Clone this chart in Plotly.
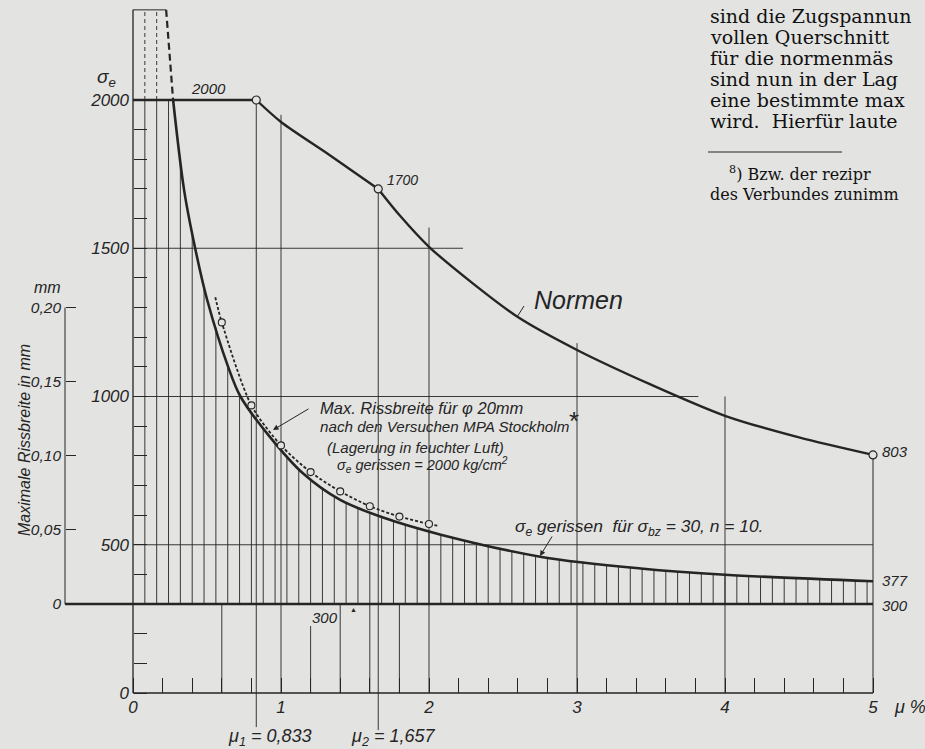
import numpy as np
import plotly.graph_objects as go

# ---------------- data ----------------
# "Normen" curve: permissible steel stress sigma_e [kg/cm2] vs. reinforcement ratio mu [%]
mu_normen = [0.0, 0.833, 1.0, 1.33, 1.657, 1.8, 2.0, 2.3, 2.6, 3.0, 3.5, 4.0, 4.5, 5.0]
sigma_normen = [2000, 2000, 1926, 1814, 1700, 1612, 1505, 1380, 1268, 1157, 1040, 935, 862, 803]

# "sigma_e gerissen fuer sigma_bz = 30, n = 10" curve (first point = dashed start above 2000)
mu_gerissen = [0.224, 0.271, 0.345, 0.42, 0.50, 0.643, 0.726, 0.926, 1.15, 1.40, 1.70, 2.08, 2.76, 3.43, 4.0, 5.0]
sigma_gerissen = [2304, 2000, 1697, 1500, 1328, 1100, 1000, 863, 740, 651, 590, 534, 459, 420, 399, 377]

# Max. Rissbreite (phi 20 mm, MPA Stockholm) [mm]
mu_riss = [0.6, 0.8, 1.0, 1.2, 1.4, 1.6, 1.8, 2.0]
riss_mm = [0.190, 0.134, 0.107, 0.089, 0.076, 0.066, 0.059, 0.054]
riss_line_start = (0.556, 0.207)
riss_line_end = (2.07, 0.0527)

# labelled points on the Normen curve
mu_marks = [0.833, 1.657, 5.0]
sigma_marks = [2000, 1700, 803]

mu_1, mu_2 = 0.833, 1.657
sigma_limit = 2000
sigma_asymptote = 300

# ticks
x_tick_vals = [0, 1, 2, 3, 4, 5]
x_tick_text = ["0", "1", "2", "3", "4", "5"]
x_minor_step = 0.2
sigma_tick_vals = [0, 500, 1000, 1500, 2000]
sigma_tick_text = ["0", "500", "1000", "1500", "2000"]
sigma_minor_step = 100
mm_tick_vals = [0, 0.05, 0.10, 0.15, 0.20]
mm_tick_text = ["0", "0,05", "0,10", "0,15", "0,20"]
hatch_step = 0.08

# ---------------- geometry / style ----------------
W, H = 925, 749
X0, KX = 133.0, 148.0      # px of mu=0, px per 1 %
Y0, KY = 693.0, 0.2965     # px of sigma=0, px per kg/cm2
SIGMA_PER_MM = 5000.0
MM_AXIS_PX = 65.0

x_range = [-X0 / KX, (W - X0) / KX]
y_range = [(Y0 - H) / KY, Y0 / KY]
y2_range = [(v - sigma_asymptote) / SIGMA_PER_MM for v in y_range]

BG = "#e3e3e1"
INK = "#252525"
FONT = "Liberation Sans"
SERIF = "DejaVu Serif"


def px_mu(px):
    return (px - X0) / KX


def fnt(size, italic=True, family=FONT, color=INK):
    d = dict(family=family, size=size, color=color)
    if italic:
        d["style"] = "italic"
    return d


fig = go.Figure()

# hatching between 300-line and the gerissen curve (capped at 2000)
hx, hy = [], []
dx, dy = [], []
k = 1
while k * hatch_step < 5.0 - 1e-9:
    m = round(k * hatch_step, 4)
    top = min(sigma_limit, float(np.interp(m, mu_gerissen, sigma_gerissen)))
    hx += [m, m, None]
    hy += [sigma_asymptote, top, None]
    if m < mu_gerissen[0]:
        dx += [m, m, None]
        dy += [sigma_limit, sigma_gerissen[0], None]
    k += 1
fig.add_trace(go.Scatter(x=hx, y=hy, mode="lines", line=dict(color=INK, width=0.9),
                         hoverinfo="skip", showlegend=False))
fig.add_trace(go.Scatter(x=dx, y=dy, mode="lines", line=dict(color=INK, width=0.9, dash="4px,3px"),
                         hoverinfo="skip", showlegend=False))

# gerissen curve
fig.add_trace(go.Scatter(x=mu_gerissen[:2], y=sigma_gerissen[:2], mode="lines",
                         line=dict(color=INK, width=2.2, dash="7px,4px"), showlegend=False))
fig.add_trace(go.Scatter(x=mu_gerissen[1:], y=sigma_gerissen[1:], mode="lines",
                         line=dict(color=INK, width=2.6, shape="spline", smoothing=0.9), showlegend=False))

# Normen curve (three pieces, kinks at mu_1 and mu_2)
i1 = mu_normen.index(mu_1)
i2 = mu_normen.index(mu_2)
fig.add_trace(go.Scatter(x=mu_normen[:i1 + 1], y=sigma_normen[:i1 + 1], mode="lines",
                         line=dict(color=INK, width=2.6), showlegend=False))
fig.add_trace(go.Scatter(x=mu_normen[i1:i2 + 1], y=sigma_normen[i1:i2 + 1], mode="lines",
                         line=dict(color=INK, width=2.4, shape="spline", smoothing=0.8), showlegend=False))
fig.add_trace(go.Scatter(x=mu_normen[i2:], y=sigma_normen[i2:], mode="lines",
                         line=dict(color=INK, width=2.4, shape="spline", smoothing=0.8), showlegend=False))
fig.add_trace(go.Scatter(x=mu_marks, y=sigma_marks, mode="markers",
                         marker=dict(symbol="circle", size=8, color=BG, line=dict(color=INK, width=1.2)),
                         showlegend=False))

# crack width curve on the mm axis
fig.add_trace(go.Scatter(x=[riss_line_start[0]] + mu_riss + [riss_line_end[0]],
                         y=[riss_line_start[1]] + riss_mm + [riss_line_end[1]],
                         yaxis="y2", mode="lines",
                         line=dict(color=INK, width=1.8, dash="3px,2px", shape="spline", smoothing=0.8),
                         showlegend=False))
fig.add_trace(go.Scatter(x=mu_riss, y=riss_mm, yaxis="y2", mode="markers",
                         marker=dict(symbol="circle", size=7, color=BG, line=dict(color=INK, width=1.1)),
                         showlegend=False))

# ---------------- shapes ----------------
shapes = []


def seg(x0, y0, x1, y1, w=1.0, xref="x", yref="y", dash=None):
    d = dict(type="line", x0=x0, y0=y0, x1=x1, y1=y1, xref=xref, yref=yref,
             line=dict(color=INK, width=w), layer="below")
    if dash:
        d["line"]["dash"] = dash
    shapes.append(d)


top_box = sigma_gerissen[0]
seg(0, 0, 0, top_box, 1.3)                      # sigma axis
seg(0, 0, 5, 0, 1.3)                            # mu axis
seg(5, 0, 5, sigma_marks[-1], 1.0)              # right border
seg(0, top_box, mu_gerissen[0], top_box, 1.0)   # top of box
seg(px_mu(MM_AXIS_PX), sigma_asymptote, 5, sigma_asymptote, 2.6)  # 300 line
seg(px_mu(MM_AXIS_PX), 0, px_mu(MM_AXIS_PX), 0.20, 1.0, yref="y2")  # mm axis
# horizontal grid pieces
seg(0, 1500, 2.23, 1500, 0.9)
seg(0, 1000, 3.82, 1000, 0.9)
seg(0, 500, 5, 500, 0.9)
# vertical grid pieces
for m, top in [(1.0, 1950), (2.0, 1570), (3.0, 1180), (4.0, 1000)]:
    seg(m, 0, m, top, 0.9)
seg(mu_1, sigma_limit, mu_1, -115, 0.9)
seg(mu_2, 1700, mu_2, -125, 0.9)
for m in [0.6, 1.4, 1.6, 1.8]:
    seg(m, 0, m, sigma_asymptote, 0.9)
seg(1.2, 0, 1.2, 226, 0.9)
# Normen leader
seg(517 / W, 1 - 317 / H, 524 / W, 1 - 306 / H, 1.0, xref="paper", yref="paper")
# footnote rule on the printed page
seg(708 / W, 1 - 152 / H, 842 / W, 1 - 152 / H, 1.0, xref="paper", yref="paper")

# ---------------- annotations ----------------
ann = []


def a_px(text, px, py, size, xanchor="center", italic=True, family=FONT, angle=0, color=INK):
    ann.append(dict(text=text, x=px / W, y=1 - py / H, xref="paper", yref="paper",
                    xanchor=xanchor, yanchor="middle", showarrow=False, textangle=angle,
                    font=fnt(size, italic, family, color)))


a_px("σ<sub>e</sub>", 106, 78, 19)
a_px("mm", 47, 288, 16)
a_px("Maximale Rissbreite in mm", 24, 440, 16, angle=-90)
a_px("μ %", 910, 707, 18)
a_px("μ<sub>1</sub> = 0,833", 269, 737, 18)
a_px("μ<sub>2</sub> = 1,657", 393, 737, 18)
a_px(str(sigma_marks[0]), 208, 89, 15)
a_px(str(sigma_marks[1]), 385, 180, 14, xanchor="left")
a_px(str(sigma_marks[2]), 880, 451, 15, xanchor="left")
a_px(str(sigma_gerissen[-1]), 880, 580, 15, xanchor="left")
a_px(str(sigma_asymptote), 880, 605, 15, xanchor="left")
a_px(str(sigma_asymptote), 325, 617, 15)
a_px("▲", 353, 609, 7, italic=False)
a_px("Normen", 578, 300, 25)
a_px("Max. Rissbreite für φ 20mm", 318, 408, 16.5, xanchor="left")
a_px("nach den Versuchen MPA Stockholm", 318, 427, 15.2, xanchor="left")
a_px("*", 574, 421, 26, italic=False)
a_px("(Lagerung in feuchter Luft)", 325, 447, 15, xanchor="left")
a_px("σ<sub>e</sub> gerissen = 2000 kg/cm<sup>2</sup>", 335, 465, 14.5, xanchor="left")
a_px("σ<sub>e</sub> gerissen  für σ<sub>bz</sub> = 30, n = 10.", 513, 527, 17.4, xanchor="left")

# printed page text on the right
page_lines = ["sind die Zugspannun", "vollen Querschnitt", "für die normenmäs",
              "sind nun in der Lag", "eine bestimmte max", "wird.  Hierfür laute"]
for i, t in enumerate(page_lines):
    a_px(t, 708, 16 + 21 * i, 19, xanchor="left", italic=False, family=SERIF, color="#111111")
a_px("<sup>8</sup>) Bzw. der rezipr", 727, 173, 16, xanchor="left", italic=False, family=SERIF, color="#111111")
a_px("des Verbundes zunimm", 708, 194, 16, xanchor="left", italic=False, family=SERIF, color="#111111")

# arrows
for hx_, hy_, ax_, ay_ in [(273, 430, 37, -22), (540, 556, 13, -21)]:
    ann.append(dict(x=hx_ / W, y=1 - hy_ / H, xref="paper", yref="paper", text="",
                    showarrow=True, ax=ax_, ay=ay_, arrowhead=2, arrowsize=1.1,
                    arrowwidth=1.0, arrowcolor=INK))

# ---------------- axes ----------------
x_minor = [round(i * x_minor_step, 2) for i in range(int(round(5 / x_minor_step)) + 1)]
s_minor = list(range(0, sigma_tick_vals[-1] + 1, sigma_minor_step))

fig.update_layout(
    width=W, height=H, margin=dict(l=0, r=0, t=0, b=0),
    paper_bgcolor=BG, plot_bgcolor=BG, showlegend=False,
    shapes=shapes, annotations=ann,
    xaxis=dict(range=x_range, domain=[0, 1], anchor="free", position=(H - Y0) / H,
               showgrid=False, zeroline=False, showline=False,
               tickmode="array", tickvals=x_tick_vals, ticktext=x_tick_text,
               ticks="inside", ticklen=15, tickwidth=1, tickcolor=INK,
               minor=dict(tickmode="array", tickvals=x_minor, ticks="inside", ticklen=15,
                          tickwidth=1, tickcolor=INK, showgrid=False),
               tickfont=fnt(17), ticklabelstandoff=2, fixedrange=True),
    yaxis=dict(range=y_range, domain=[0, 1], anchor="free", position=X0 / W,
               showgrid=False, zeroline=False, showline=False,
               tickmode="array", tickvals=sigma_tick_vals, ticktext=sigma_tick_text,
               ticks="inside", ticklen=13, tickwidth=1, tickcolor=INK,
               minor=dict(tickmode="array", tickvals=s_minor, ticks="inside", ticklen=13,
                          tickwidth=1, tickcolor=INK, showgrid=False),
               tickfont=fnt(17), ticklabelstandoff=4, fixedrange=True),
    yaxis2=dict(range=y2_range, overlaying="y", anchor="free", position=MM_AXIS_PX / W, side="left",
                showgrid=False, zeroline=False, showline=False,
                tickmode="array", tickvals=mm_tick_vals, ticktext=mm_tick_text,
                ticks="inside", ticklen=10, tickwidth=1, tickcolor=INK,
                tickfont=fnt(15.5), ticklabelstandoff=4, fixedrange=True),
)

fig.write_html("out.html", config={"displayModeBar": False},
               post_script="document.body.style.margin='0px';document.body.style.overflow='hidden';")
